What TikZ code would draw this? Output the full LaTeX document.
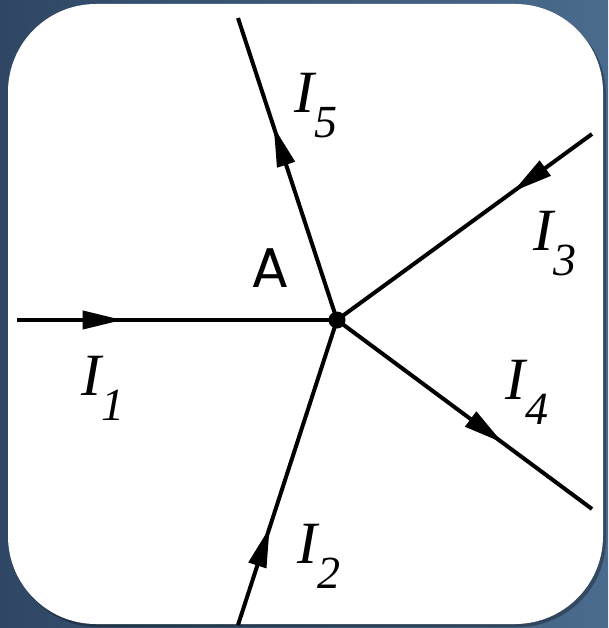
\documentclass[tikz,border=0pt]{standalone}
\usepackage{fontspec}
\setmainfont{Liberation Serif}
\newfontfamily\labelsans{Poppins}
\usetikzlibrary{arrows.meta,decorations.markings}
\definecolor{slateL}{HTML}{2F4764}
\definecolor{slateR}{HTML}{4A6B8D}
\newcommand{\curlabel}[1]{I\raisebox{-25pt}{\fontsize{46}{46}\selectfont #1}}

\begin{document}
\begin{tikzpicture}[x=1pt,y=-1pt,
  wire/.style={line width=4pt},
  flow/.style={postaction={decorate},decoration={markings,
    mark=at position #1 with {\arrow{Triangle[length=40pt,width=18pt]}}}},
  cur/.style={font=\fontsize{60}{62}\selectfont\itshape,inner sep=0pt}]
\useasboundingbox (0,0) rectangle (608,628);
\fill[left color=slateL,right color=slateR] (0,0) rectangle (608,628);
\fill[black,opacity=0.3,rounded corners=88pt] (10,7) rectangle (606,627);
\fill[white,rounded corners=88pt] (8,4) rectangle (603,624);
\node[circle,fill,inner sep=0pt,minimum size=17pt] (A) at (337,320) {};
\coordinate (e1) at (17,320);
\coordinate (e2) at (238,625);
\coordinate (e3) at (592,134);
\coordinate (e4) at (592,509);
\coordinate (e5) at (238,18);
\draw[wire,flow=0.33] (e1) -- (A.center);
\draw[wire,flow=0.32] (e2) -- (A.center);
\draw[wire,flow=0.31] (e3) -- (A.center);
\draw[wire,flow=0.65] (A.center) -- (e4);
\draw[wire,flow=0.64] (A.center) -- (e5);
\node[cur] (i1) at (103,388) {\curlabel{1}};
\node[cur] (i2) at (319,556) {\curlabel{2}};
\node[cur] (i3) at (555,244) {\curlabel{3}};
\node[cur] (i4) at (527,392) {\curlabel{4}};
\node[cur] (i5) at (316,106) {\curlabel{5}};
\node[font=\labelsans\fontsize{56}{56}\selectfont,inner sep=0pt] (lA) at (270,268) {A};
\end{tikzpicture}
\end{document}
